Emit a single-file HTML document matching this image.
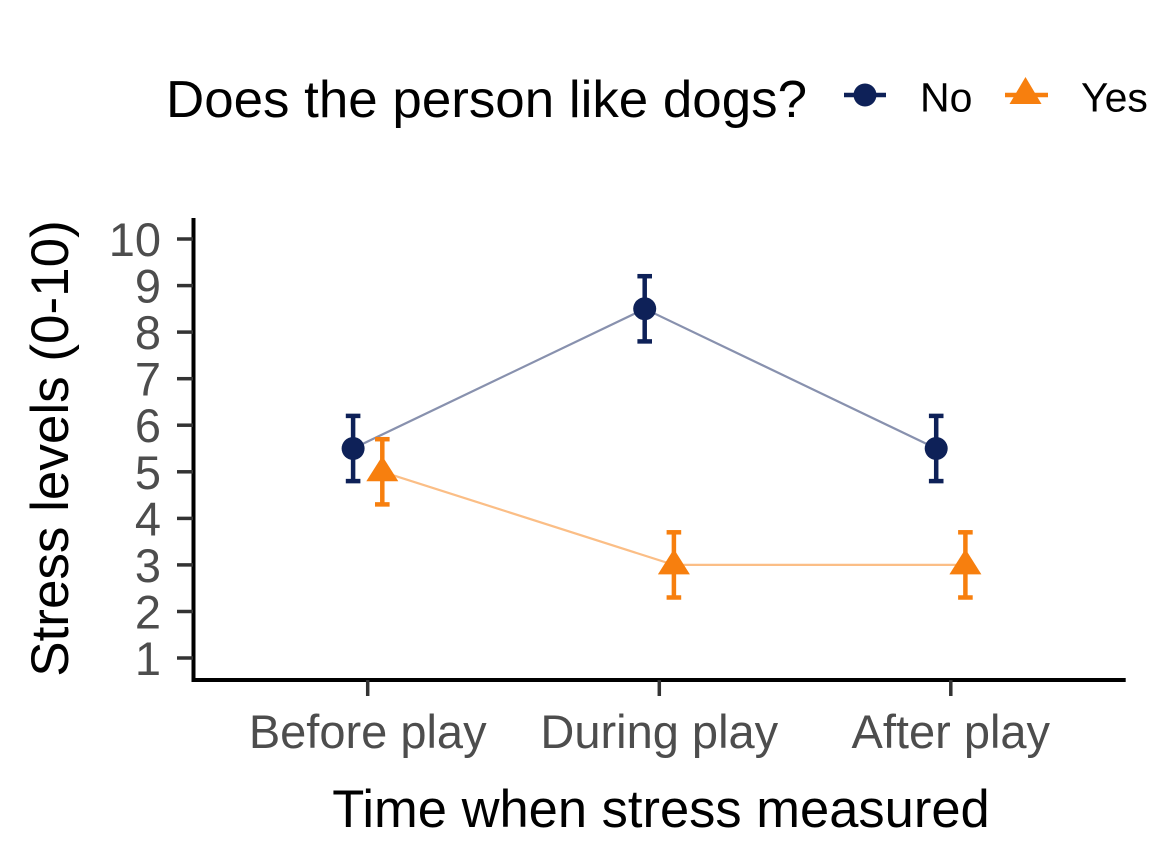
<!DOCTYPE html>
<html>
<head>
<meta charset="utf-8">
<style>
  html, body { margin: 0; padding: 0; background: #ffffff; overflow: hidden; }
  svg { display: block; }
  text { font-family: "Liberation Sans", Arial, sans-serif; }
</style>
</head>
<body>
<svg width="1152" height="864" viewBox="0 0 1152 864" xmlns="http://www.w3.org/2000/svg">
  <rect x="0" y="0" width="1152" height="864" fill="#ffffff"/>

  <!-- Legend -->
  <text x="166" y="117" font-size="52" fill="#000000" textLength="641" lengthAdjust="spacingAndGlyphs">Does the person like dogs?</text>
  <line x1="844" y1="95" x2="886" y2="95" stroke="#0E2158" stroke-width="4.5"/>
  <circle cx="865" cy="95" r="11.5" fill="#0E2158"/>
  <text x="920" y="111.5" font-size="41" fill="#000000">No</text>
  <line x1="1005" y1="95" x2="1048" y2="95" stroke="#F77F0E" stroke-width="4.5"/>
  <polygon points="1025.5,77 1009.5,104 1041.5,104" fill="#F77F0E"/>
  <text x="1081" y="111.5" font-size="41" fill="#000000">Yes</text>

  <!-- Connecting lines -->
  <polyline points="353.1,448.5 644.7,308.8 936.2,448.5" fill="none" stroke="#8891AE" stroke-width="2.2"/>
  <polyline points="382.3,471.8 673.9,564.9 965.4,564.9" fill="none" stroke="#FBBE86" stroke-width="2.2"/>

  <!-- Error bars: No -->
  <g stroke="#0E2158" stroke-width="4.5" fill="none">
    <line x1="353.1" y1="415.9" x2="353.1" y2="481.1"/>
    <line x1="345.8" y1="415.9" x2="360.4" y2="415.9"/>
    <line x1="345.8" y1="481.1" x2="360.4" y2="481.1"/>

    <line x1="644.7" y1="276.2" x2="644.7" y2="341.4"/>
    <line x1="637.4" y1="276.2" x2="652.0" y2="276.2"/>
    <line x1="637.4" y1="341.4" x2="652.0" y2="341.4"/>

    <line x1="936.2" y1="415.9" x2="936.2" y2="481.1"/>
    <line x1="928.9" y1="415.9" x2="943.5" y2="415.9"/>
    <line x1="928.9" y1="481.1" x2="943.5" y2="481.1"/>
  </g>

  <!-- Error bars: Yes -->
  <g stroke="#F77F0E" stroke-width="4.5" fill="none">
    <line x1="382.3" y1="439.2" x2="382.3" y2="504.4"/>
    <line x1="375.0" y1="439.2" x2="389.6" y2="439.2"/>
    <line x1="375.0" y1="504.4" x2="389.6" y2="504.4"/>

    <line x1="673.9" y1="532.3" x2="673.9" y2="597.5"/>
    <line x1="666.6" y1="532.3" x2="681.2" y2="532.3"/>
    <line x1="666.6" y1="597.5" x2="681.2" y2="597.5"/>

    <line x1="965.4" y1="532.3" x2="965.4" y2="597.5"/>
    <line x1="958.1" y1="532.3" x2="972.7" y2="532.3"/>
    <line x1="958.1" y1="597.5" x2="972.7" y2="597.5"/>
  </g>

  <!-- Points: No -->
  <g fill="#0E2158">
    <circle cx="353.1" cy="448.5" r="11.5"/>
    <circle cx="644.7" cy="308.8" r="11.5"/>
    <circle cx="936.2" cy="448.5" r="11.5"/>
  </g>

  <!-- Points: Yes -->
  <g fill="#F77F0E">
    <polygon points="382.3,456 366.3,481.3 398.3,481.3"/>
    <polygon points="673.9,549 657.9,574.4 689.9,574.4"/>
    <polygon points="965.4,549 949.4,574.4 981.4,574.4"/>
  </g>

  <!-- Axes -->
  <line x1="193.5" y1="218" x2="193.5" y2="682" stroke="#000000" stroke-width="4"/>
  <line x1="191.5" y1="680" x2="1125.7" y2="680" stroke="#000000" stroke-width="4"/>

  <!-- Y ticks -->
  <g stroke="#333333" stroke-width="3.5">
    <line x1="177" y1="239" x2="193" y2="239"/>
    <line x1="177" y1="285.6" x2="193" y2="285.6"/>
    <line x1="177" y1="332.1" x2="193" y2="332.1"/>
    <line x1="177" y1="378.7" x2="193" y2="378.7"/>
    <line x1="177" y1="425.2" x2="193" y2="425.2"/>
    <line x1="177" y1="471.8" x2="193" y2="471.8"/>
    <line x1="177" y1="518.4" x2="193" y2="518.4"/>
    <line x1="177" y1="564.9" x2="193" y2="564.9"/>
    <line x1="177" y1="611.5" x2="193" y2="611.5"/>
    <line x1="177" y1="658" x2="193" y2="658"/>
  </g>
  <g font-size="47" fill="#4D4D4D" text-anchor="end">
    <text x="161" y="256">10</text>
    <text x="161" y="302.6">9</text>
    <text x="161" y="349.1">8</text>
    <text x="161" y="395.7">7</text>
    <text x="161" y="442.2">6</text>
    <text x="161" y="488.8">5</text>
    <text x="161" y="535.4">4</text>
    <text x="161" y="581.9">3</text>
    <text x="161" y="628.5">2</text>
    <text x="161" y="675">1</text>
  </g>

  <!-- X ticks -->
  <g stroke="#333333" stroke-width="3.5">
    <line x1="367.7" y1="680" x2="367.7" y2="696"/>
    <line x1="659.3" y1="680" x2="659.3" y2="696"/>
    <line x1="950.8" y1="680" x2="950.8" y2="696"/>
  </g>
  <g font-size="47" fill="#4D4D4D" text-anchor="middle">
    <text x="367.7" y="748">Before play</text>
    <text x="659.3" y="748">During play</text>
    <text x="950.8" y="748">After play</text>
  </g>

  <!-- Axis titles -->
  <text x="661" y="827" font-size="52.5" fill="#000000" text-anchor="middle">Time when stress measured</text>
  <text transform="translate(68,448.5) rotate(-90)" font-size="53" fill="#000000" text-anchor="middle">Stress levels (0-10)</text>
</svg>
</body>
</html>
